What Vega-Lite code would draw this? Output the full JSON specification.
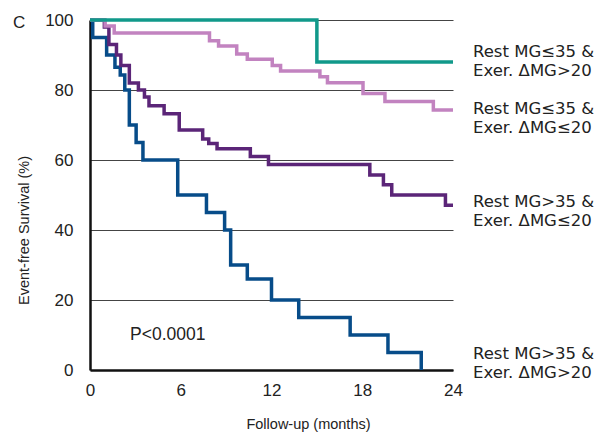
{
  "$schema": "https://vega.github.io/schema/vega-lite/v6.json",
  "width": 363,
  "height": 350,
  "autosize": "none",
  "padding": {"left": 90, "top": 20, "right": 155, "bottom": 64},
  "background": "white",
  "title": {"text": "C", "anchor": "start", "frame": "group", "dx": -77, "offset": -21, "fontSize": 17, "font": "Liberation Sans", "fontWeight": "normal", "color": "#222"},
  "config": {
    "view": {"stroke": null},
    "axis": {
      "labelFont": "Liberation Sans",
      "labelFontSize": 17,
      "labelColor": "#222",
      "titleFont": "Liberation Sans",
      "titleFontSize": 14.5,
      "titleFontWeight": "normal",
      "titleColor": "#222",
      "domainColor": "#111",
      "domainWidth": 2.5,
      "ticks": false
    }
  },
  "layer": [
    {
      "data": {"values": [
        {"group": "g4", "t": 0, "s": 100},
        {"group": "g4", "t": 0.18, "s": 95},
        {"group": "g4", "t": 1.1, "s": 90},
        {"group": "g4", "t": 1.65, "s": 86.5},
        {"group": "g4", "t": 2.0, "s": 84.3},
        {"group": "g4", "t": 2.3, "s": 80},
        {"group": "g4", "t": 2.6, "s": 70},
        {"group": "g4", "t": 3.05, "s": 65},
        {"group": "g4", "t": 3.5, "s": 60},
        {"group": "g4", "t": 5.8, "s": 50},
        {"group": "g4", "t": 7.7, "s": 45},
        {"group": "g4", "t": 8.9, "s": 40},
        {"group": "g4", "t": 9.3, "s": 30},
        {"group": "g4", "t": 10.4, "s": 26},
        {"group": "g4", "t": 12.0, "s": 20},
        {"group": "g4", "t": 13.8, "s": 15},
        {"group": "g4", "t": 17.2, "s": 10},
        {"group": "g4", "t": 19.7, "s": 5},
        {"group": "g4", "t": 21.9, "s": 0},
        {"group": "g3", "t": 0, "s": 100},
        {"group": "g3", "t": 0.95, "s": 98},
        {"group": "g3", "t": 1.25, "s": 93},
        {"group": "g3", "t": 1.75, "s": 90},
        {"group": "g3", "t": 2.04, "s": 87},
        {"group": "g3", "t": 2.6, "s": 82},
        {"group": "g3", "t": 3.2, "s": 80},
        {"group": "g3", "t": 3.6, "s": 78},
        {"group": "g3", "t": 3.9, "s": 75.5},
        {"group": "g3", "t": 4.9, "s": 73.2},
        {"group": "g3", "t": 5.9, "s": 68.6},
        {"group": "g3", "t": 7.45, "s": 66},
        {"group": "g3", "t": 7.85, "s": 64.7},
        {"group": "g3", "t": 8.4, "s": 63.2},
        {"group": "g3", "t": 10.6, "s": 61},
        {"group": "g3", "t": 11.8, "s": 58.7},
        {"group": "g3", "t": 18.5, "s": 55.7},
        {"group": "g3", "t": 19.4, "s": 52.9},
        {"group": "g3", "t": 19.95, "s": 50},
        {"group": "g3", "t": 23.5, "s": 47.1},
        {"group": "g3", "t": 24, "s": 47.1},
        {"group": "g2", "t": 0, "s": 100},
        {"group": "g2", "t": 1.0, "s": 98.3},
        {"group": "g2", "t": 1.6, "s": 96.3},
        {"group": "g2", "t": 7.9, "s": 94.1},
        {"group": "g2", "t": 8.5, "s": 92.6},
        {"group": "g2", "t": 9.7, "s": 90.3},
        {"group": "g2", "t": 10.4, "s": 88.8},
        {"group": "g2", "t": 12.05, "s": 87},
        {"group": "g2", "t": 12.6, "s": 85.4},
        {"group": "g2", "t": 15.2, "s": 83.8},
        {"group": "g2", "t": 15.7, "s": 82.1},
        {"group": "g2", "t": 18.05, "s": 79},
        {"group": "g2", "t": 19.5, "s": 76.7},
        {"group": "g2", "t": 22.7, "s": 74.3},
        {"group": "g2", "t": 24, "s": 74.3},
        {"group": "g1", "t": 0, "s": 100},
        {"group": "g1", "t": 15.0, "s": 88},
        {"group": "g1", "t": 24, "s": 88}
      ]},
      "mark": {"type": "line", "interpolate": "step-after", "strokeWidth": 3.5, "strokeCap": "butt", "strokeJoin": "miter"},
      "encoding": {
        "x": {
          "field": "t", "type": "quantitative",
          "scale": {"domain": [0, 24], "nice": false},
          "axis": {"values": [0, 6, 12, 18, 24], "grid": false, "labelPadding": 12, "title": "Follow-up (months)", "titlePadding": 19, "titleX": 218, "titleAnchor": "middle", "labelFlush": false}
        },
        "y": {
          "field": "s", "type": "quantitative",
          "scale": {"domain": [0, 100], "nice": false},
          "axis": {"values": [0, 20, 40, 60, 80, 100], "grid": true, "gridColor": "#444", "gridWidth": 1, "labelPadding": 17, "title": "Event-free Survival (%)", "titlePadding": 13, "titleY": 210, "titleAnchor": "middle", "labelFlush": false}
        },
        "color": {
          "field": "group", "type": "nominal",
          "scale": {"domain": ["g1", "g2", "g3", "g4"], "range": ["#11998a", "#c283c0", "#5b2578", "#074c89"]},
          "legend": null
        }
      }
    },
    {
      "data": {"values": [
        {"t": 24, "s": 90.8, "label": "Rest MG≤35 &\nExer. ΔMG>20"},
        {"t": 24, "s": 74.6, "label": "Rest MG≤35 &\nExer. ΔMG≤20"},
        {"t": 24, "s": 47.9, "label": "Rest MG>35 &\nExer. ΔMG≤20"},
        {"t": 24, "s": 4.6, "label": "Rest MG>35 &\nExer. ΔMG>20"}
      ]},
      "mark": {"type": "text", "align": "left", "baseline": "middle", "dx": 20, "font": "DejaVu Sans", "fontSize": 16.5, "lineBreak": "\n", "lineHeight": 19, "color": "#222"},
      "encoding": {
        "x": {"field": "t", "type": "quantitative"},
        "y": {"field": "s", "type": "quantitative"},
        "text": {"field": "label"}
      }
    },
    {
      "data": {"values": [{"t": 2.65, "s": 9.9, "label": "P<0.0001"}]},
      "mark": {"type": "text", "align": "left", "baseline": "middle", "font": "Liberation Sans", "fontSize": 17.5, "color": "#222"},
      "encoding": {
        "x": {"field": "t", "type": "quantitative"},
        "y": {"field": "s", "type": "quantitative"},
        "text": {"field": "label"}
      }
    }
  ]
}
